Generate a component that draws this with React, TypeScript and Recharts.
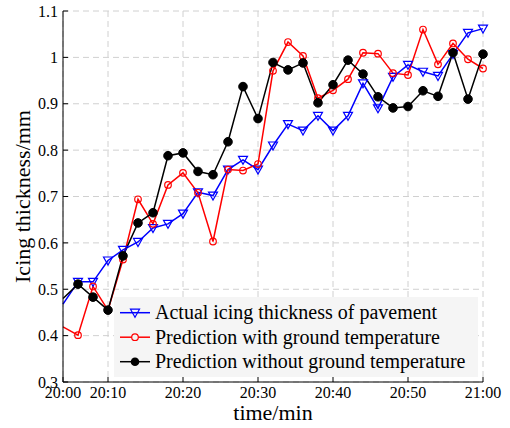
import React from "react";
import { LineChart, Line, XAxis, YAxis, CartesianGrid, Legend, Label } from "recharts";

// minutes after 20:00 (axis starts at 4 but is labelled 20:00, as in the source figure)
const minutes = [4, 6, 8, 10, 12, 14, 16, 18, 20, 22, 24, 26, 28, 30, 32, 34, 36, 38, 40, 42, 44, 46, 48, 50, 52, 54, 56, 58, 60];
const actual = [0.468, 0.516, 0.516, 0.562, 0.585, 0.602, 0.632, 0.641, 0.663, 0.709, 0.702, 0.758, 0.779, 0.758, 0.81, 0.856, 0.842, 0.874, 0.842, 0.874, 0.944, 0.89, 0.958, 0.984, 0.969, 0.96, 1.007, 1.053, 1.062];
const withGround = [0.419, 0.401, 0.506, 0.455, 0.564, 0.694, 0.641, 0.725, 0.751, 0.708, 0.603, 0.758, 0.756, 0.77, 0.971, 1.033, 1.003, 0.912, 0.929, 0.953, 1.01, 1.008, 0.966, 0.962, 1.06, 0.985, 1.03, 0.996, 0.976];
const withoutGround = [0.48, 0.511, 0.483, 0.455, 0.572, 0.643, 0.665, 0.788, 0.794, 0.754, 0.747, 0.818, 0.937, 0.868, 0.989, 0.973, 0.988, 0.902, 0.941, 0.994, 0.964, 0.915, 0.891, 0.894, 0.928, 0.916, 1.01, 0.91, 1.007];

const xTicks = [4, 10, 20, 30, 40, 50, 60];
const xTickLabels = ["20:00", "20:10", "20:20", "20:30", "20:40", "20:50", "21:00"];
const yTicks = [0.3, 0.4, 0.5, 0.6, 0.7, 0.8, 0.9, 1.0, 1.1];
const yTickLabels = ["0.3", "0.4", "0.5", "0.6", "0.7", "0.8", "0.9", "1", "1.1"];

const seriesNames = [
  "Actual icing thickness of pavement",
  "Prediction with ground temperature",
  "Prediction without ground temperature",
];

const data = minutes.map((t, i) => ({
  t,
  actual: actual[i],
  withGround: withGround[i],
  withoutGround: withoutGround[i],
}));

const FONT = "Liberation Serif, Times New Roman, Times, serif";
const TICK_STYLE = { fontSize: 16, fill: "#000", fontFamily: FONT, style: { fontFamily: FONT } };

const Triangle = ({ cx, cy }: { cx: number; cy: number }) => (
  <path
    d={`M${cx - 4.5},${cy - 3.5} L${cx + 4.5},${cy - 3.5} L${cx},${cy + 4.5} Z`}
    fill="none"
    stroke="#0000ff"
    strokeWidth={1.2}
  />
);

// the first point sits on the left axis; the source shows no marker there
const makeDot = (kind: string) => (props: any) => {
  const { cx, cy, payload, index } = props;
  if (payload.t < 6 || cx == null) return <g key={`d-${kind}-${index}`} />;
  if (kind === "tri") return <g key={`d-${kind}-${index}`}><Triangle cx={cx} cy={cy} /></g>;
  if (kind === "open")
    return <circle key={`d-${kind}-${index}`} cx={cx} cy={cy} r={3.3} fill="none" stroke="#ff0000" strokeWidth={1.2} />;
  return <circle key={`d-${kind}-${index}`} cx={cx} cy={cy} r={4.3} fill="#000" stroke="#000" />;
};

const LegendBox = () => {
  const rows = [
    { color: "#0000ff", kind: "tri" },
    { color: "#ff0000", kind: "open" },
    { color: "#000000", kind: "fill" },
  ];
  return (
    <svg width={364} height={80} style={{ display: "block", background: "#f5f5f5" }}>
      {rows.map((r, i) => {
        const y = 15.7 + i * 24.5;
        return (
          <g key={i}>
            <line x1={6} x2={36} y1={y} y2={y} stroke={r.color} strokeWidth={1.5} />
            {r.kind === "tri" && (
              <path d={`M${21 - 4.5},${y - 3.5} L${21 + 4.5},${y - 3.5} L21,${y + 4.5} Z`} fill="none" stroke={r.color} strokeWidth={1.2} />
            )}
            {r.kind === "open" && <circle cx={21} cy={y} r={3.3} fill="#f5f5f5" stroke={r.color} strokeWidth={1.2} />}
            {r.kind === "fill" && <circle cx={21} cy={y} r={4.3} fill={r.color} />}
            <text x={41} y={y + 6.5} fontSize={20} style={{ fontFamily: FONT }} fill="#000">
              {seriesNames[i]}
            </text>
          </g>
        );
      })}
    </svg>
  );
};

const YTitle = (props: any) => {
  const { viewBox } = props;
  const cx = 30;
  const cy = viewBox.y + viewBox.height / 2;
  return (
    <text
      x={cx}
      y={cy}
      transform={`rotate(-90, ${cx}, ${cy})`}
      textAnchor="middle"
      fontSize={22}
      style={{ fontFamily: FONT }}
      fill="#000"
    >
      Icing thickness/mm
    </text>
  );
};

export default function App() {
  return (
    <div style={{ fontFamily: FONT }}>
      <style>{"body{margin:0}"}</style>
      <LineChart
        width={510}
        height={428}
        data={data}
        margin={{ top: 11, right: 27, left: 0, bottom: 0 }}
      >
        <CartesianGrid stroke="#d0d0d0" strokeDasharray="6 4" />
        <XAxis
          dataKey="t"
          type="number"
          domain={[4, 60]}
          ticks={xTicks}
          tickFormatter={(v: number) => xTickLabels[xTicks.indexOf(v)]}
          interval={0}
          height={46}
          tickSize={-5}
          tickMargin={10}
          tick={TICK_STYLE}
          stroke="#000"
        >
          <Label
            value="time/min"
            position="insideBottom"
            offset={8}
            style={{ fontSize: 22, fontFamily: FONT, fill: "#000" }}
          />
        </XAxis>
        <XAxis
          xAxisId="top"
          orientation="top"
          type="number"
          domain={[4, 60]}
          ticks={xTicks}
          height={0}
          tickSize={-5}
          tick={false}
          stroke="#000"
        />
        <YAxis
          type="number"
          domain={[0.3, 1.1]}
          ticks={yTicks}
          tickFormatter={(v: number) => yTickLabels[yTicks.findIndex((y) => Math.abs(y - v) < 1e-6)]}
          interval={0}
          width={63}
          tickSize={-5}
          tickMargin={10}
          tick={TICK_STYLE}
          stroke="#000"
        >
          <Label content={<YTitle />} />
        </YAxis>
        <YAxis
          yAxisId="right"
          orientation="right"
          type="number"
          domain={[0.3, 1.1]}
          ticks={yTicks}
          width={0}
          tickSize={-5}
          tick={false}
          stroke="#000"
        />
        <Legend
          layout="horizontal"
          verticalAlign="middle"
          align="center"
          content={() => <LegendBox />}
          wrapperStyle={{ left: 114, top: 297, width: 364, height: 80 }}
        />
        <Line
          dataKey="actual"
          stroke="#0000ff"
          strokeWidth={1.5}
          dot={makeDot("tri")}
          isAnimationActive={false}
        />
        <Line
          dataKey="withGround"
          stroke="#ff0000"
          strokeWidth={1.5}
          dot={makeDot("open")}
          isAnimationActive={false}
        />
        <Line
          dataKey="withoutGround"
          stroke="#000000"
          strokeWidth={1.5}
          dot={makeDot("fill")}
          isAnimationActive={false}
        />
      </LineChart>
    </div>
  );
}
